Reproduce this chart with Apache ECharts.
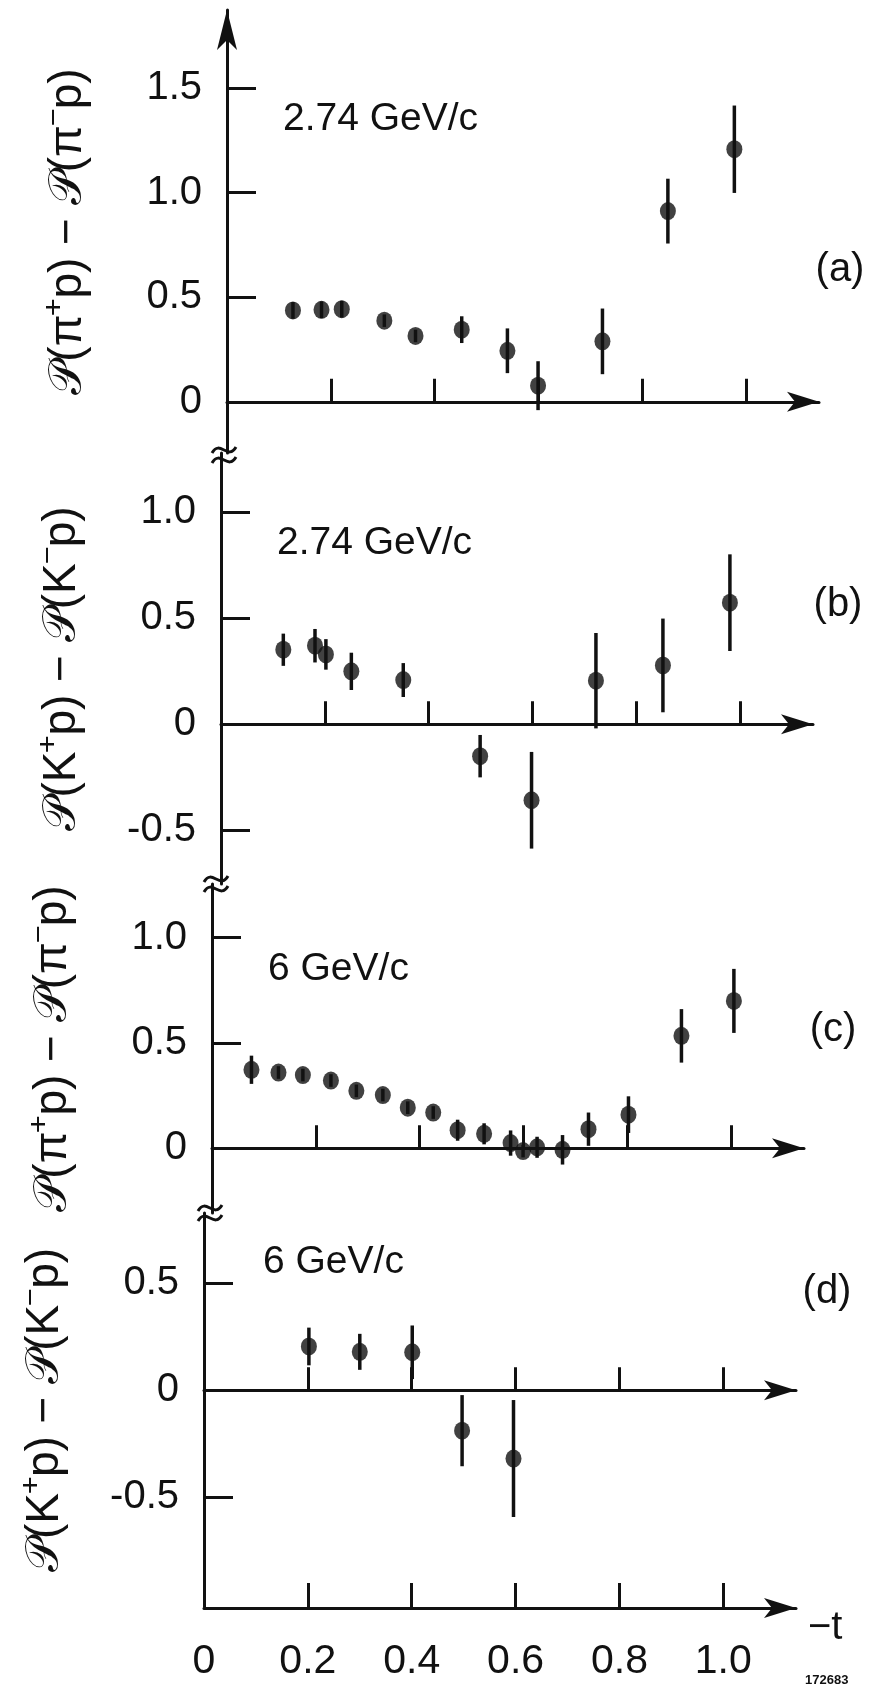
<!DOCTYPE html>
<html><head><meta charset="utf-8">
<script src="https://cdn.jsdelivr.net/npm/echarts@6/dist/echarts.min.js"></script>
<style>html,body{margin:0;padding:0;background:#fff}#c{width:878px;height:1690px}</style>
</head><body><div id="c"></div>
<script>
// ---- data ----
const tA = [0.127,0.182,0.221,0.303,0.363,0.452,0.540,0.599,0.723,0.849,0.977];
const pA = [0.437,0.440,0.443,0.388,0.315,0.345,0.244,0.077,0.289,0.912,1.208];
const eA = [0.040,0.040,0.040,0.030,0.030,0.064,0.107,0.117,0.157,0.155,0.209];

const tB = [0.120,0.181,0.202,0.251,0.351,0.499,0.598,0.722,0.851,0.980];
const pB = [0.352,0.371,0.330,0.250,0.209,-0.150,-0.358,0.206,0.278,0.574];
const eB = [0.076,0.079,0.072,0.088,0.080,0.100,0.228,0.225,0.221,0.228];

const tC = [0.076,0.128,0.175,0.229,0.278,0.329,0.377,0.426,0.473,0.524,0.575,0.599,0.626,0.675,0.725,0.802,0.904,1.005];
const pC = [0.373,0.360,0.348,0.322,0.273,0.253,0.193,0.170,0.086,0.069,0.025,-0.013,0.005,-0.007,0.091,0.160,0.534,0.700];
const eC = [0.067,0.030,0.030,0.030,0.030,0.030,0.030,0.030,0.050,0.050,0.060,0.030,0.050,0.070,0.079,0.087,0.127,0.152];

const tD = [0.202,0.300,0.401,0.497,0.596];
const pD = [0.204,0.179,0.177,-0.189,-0.319];
const eD = [0.088,0.084,0.125,0.166,0.273];

const yTicksA = [0, 0.5, 1.0, 1.5];
const yTicksB = [-0.5, 0, 0.5, 1.0];
const yTicksC = [0, 0.5, 1.0];
const yTicksD = [-0.5, 0, 0.5];
const xTicks = [0.2, 0.4, 0.6, 0.8, 1.0];
const xLabelValues = [0, 0.2, 0.4, 0.6, 0.8, 1.0];

const yTitles = ['𝒫(π⁺p) − 𝒫(π⁻p)', '𝒫(K⁺p) − 𝒫(K⁻p)', '𝒫(π⁺p) − 𝒫(π⁻p)', '𝒫(K⁺p) − 𝒫(K⁻p)'];
const momenta = ['2.74 GeV/c', '2.74 GeV/c', '6 GeV/c', '6 GeV/c'];
const panelTags = ['(a)', '(b)', '(c)', '(d)'];
const xName = '−t';
const figureId = '172683';

// ---- layout ----
const FONT = "'Liberation Sans', Arial, sans-serif";
const INK = '#111';
const panels = [
  {t:tA,p:pA,e:eA,ticks:yTicksA,left:227,top:10,height:443,min:-0.245,max:1.874,arrowY:true,
   mom:[283,119],tag:[840,270]},
  {t:tB,p:pB,e:eB,ticks:yTicksB,left:221,top:453,height:431,min:-0.753,max:1.28,
   mom:[277,543],tag:[838,605]},
  {t:tC,p:pC,e:eC,ticks:yTicksC,left:212,top:884,height:329,min:-0.307,max:1.255,
   mom:[268,969],tag:[833,1030]},
  {t:tD,p:pD,e:eD,ticks:yTicksD,left:204,top:1213,height:394,min:-1.012,max:0.827,
   mom:[263,1262],tag:[827,1292]}
];
const XMAX = 1.14, GW = 592;

const grid = [], xAxis = [], yAxis = [], series = [], graphic = [];
const fmt = v => v === 0 ? '0' : v.toFixed(1);

panels.forEach((P, k) => {
  grid.push({left:P.left, top:P.top, width:GW, height:P.height});
  xAxis.push({
    type:'value', gridIndex:k, min:0, max:XMAX,
    axisLine:{show:true, onZero:true, lineStyle:{color:INK, width:3},
      symbol:['none','arrow'], symbolSize:[15,32]},
    axisTick:{show:true, inside:true, length:23, customValues:xTicks, lineStyle:{color:INK, width:3}},
    axisLabel:{show:false}, splitLine:{show:false}
  });
  yAxis.push({
    type:'value', gridIndex:k, min:P.min, max:P.max,
    name:yTitles[k], nameLocation:'middle', nameRotate:90, nameGap:136,
    nameTextStyle:{fontFamily:FONT, fontSize:46, color:INK},
    axisLine:{show:true, onZero:false, lineStyle:{color:INK, width:3},
      symbol: P.arrowY ? ['none','arrow'] : ['none','none'], symbolSize:[15,40]},
    axisTick:{show:true, inside:true, length:29, customValues:P.ticks, lineStyle:{color:INK, width:3}},
    axisLabel:{show:true, customValues:P.ticks, formatter:fmt, margin:25,
      fontFamily:FONT, fontSize:40, color:INK},
    splitLine:{show:false}
  });
  series.push({
    type:'custom', xAxisIndex:k, yAxisIndex:k, clip:false,
    data:P.t.map((t,i)=>[t, P.p[i]-P.e[i], P.p[i]+P.e[i]]),
    encode:{x:0, y:[1,2]},
    renderItem:(params, api) => {
      const a = api.coord([api.value(0), api.value(1)]);
      const b = api.coord([api.value(0), api.value(2)]);
      return {type:'line', shape:{x1:a[0],y1:a[1],x2:b[0],y2:b[1]},
        style:{stroke:INK, lineWidth:3.5}};
    },
    silent:true, z:2
  });
  series.push({
    type:'scatter', xAxisIndex:k, yAxisIndex:k,
    data:P.t.map((t,i)=>[t, P.p[i]]),
    symbol:'circle', symbolSize:[16,18],
    itemStyle:{color:INK}, z:3, silent:true
  });
  graphic.push({type:'text', x:P.mom[0], y:P.mom[1],
    style:{text:momenta[k], fontFamily:FONT, fontSize:39, fill:INK, align:'left', verticalAlign:'middle'}});
  graphic.push({type:'text', x:P.tag[0], y:P.tag[1],
    style:{text:panelTags[k], fontFamily:FONT, fontSize:40, fill:INK, align:'center', verticalAlign:'middle'}});
});

// bottom labelled axis
grid.push({left:204, top:1607, width:GW, height:1});
xAxis.push({
  type:'value', gridIndex:4, min:0, max:XMAX, position:'bottom',
  name:xName, nameLocation:'end', nameGap:12,
  nameTextStyle:{fontFamily:FONT, fontSize:40, color:INK, verticalAlign:'top'},
  axisLine:{show:true, onZero:false, lineStyle:{color:INK, width:3}, symbol:['none','arrow'], symbolSize:[15,32]},
  axisTick:{show:true, inside:true, length:25, customValues:xTicks, lineStyle:{color:INK, width:3}},
  axisLabel:{show:true, customValues:xLabelValues, formatter:fmt, margin:33,
    fontFamily:FONT, fontSize:41, color:INK},
  splitLine:{show:false}
});
yAxis.push({type:'value', gridIndex:4, min:0, max:1, show:false});

// axis breaks (two tildes across the axis)
[[224,455],[216,884],[210,1213]].forEach(b => {
  [-5, 5].forEach(d => {
    graphic.push({type:'bezierCurve', z:10,
      shape:{x1:b[0]-12, y1:b[1]+d+3, x2:b[0]+12, y2:b[1]+d-3,
             cpx1:b[0]-4, cpy1:b[1]+d-11, cpx2:b[0]+4, cpy2:b[1]+d+11},
      style:{stroke:INK, lineWidth:3, fill:null}});
  });
});
graphic.push({type:'text', x:805, y:1680,
  style:{text:figureId, fontFamily:FONT, fontSize:13, fontWeight:'bold', fill:INK, align:'left', verticalAlign:'middle'}});

const chart = echarts.init(document.getElementById('c'), null, {renderer:'canvas'});
chart.setOption({
  backgroundColor:'#fff', animation:false,
  grid, xAxis, yAxis, series, graphic
});
</script>
</body></html>
